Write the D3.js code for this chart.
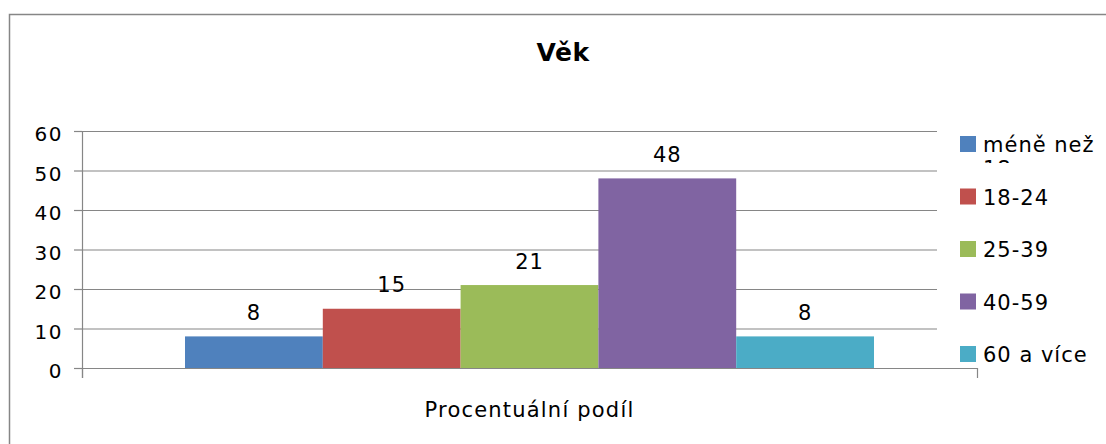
<!DOCTYPE html>
<html>
<head>
<meta charset="utf-8">
<script src="https://cdn.jsdelivr.net/npm/d3@7"></script>
<style>
  body { margin: 0; background: #fff; }
  text { font-family: "DejaVu Sans", sans-serif; fill: #000; }
</style>
</head>
<body>
<svg id="chart" width="1106" height="444"></svg>
<script>
// data
const categories = ["méně než 18", "18-24", "25-39", "40-59", "60 a více"];
const values = [8, 15, 21, 48, 8];
const colors = ["#4F81BD", "#C0504D", "#9BBB59", "#8064A2", "#4BACC6"];
const yTicks = [0, 10, 20, 30, 40, 50, 60];
const groupLabel = "Procentuální podíl";
const title = "Věk";

const svg = d3.select("#chart");
const grey = "#868686";

// outer frame (right and bottom run off the picture)
svg.append("rect")
  .attr("x", 9.5).attr("y", 14.5)
  .attr("width", 1120).attr("height", 460)
  .attr("fill", "none").attr("stroke", grey).attr("stroke-width", 1.5);

const plotLeft = 82, plotRight = 977, plotTop = 131, plotBottom = 368;

const y = d3.scaleLinear().domain([0, 60]).range([plotBottom, plotTop]);
const x = d3.scaleBand().domain(categories)
  .range([185, 874]).padding(0);

// gridlines
svg.append("g")
  .selectAll("line")
  .data(yTicks.filter(d => d > 0))
  .join("line")
  .attr("x1", plotLeft).attr("x2", 937)
  .attr("y1", d => y(d) + 0.5).attr("y2", d => y(d) + 0.5)
  .attr("stroke", grey).attr("stroke-width", 1.2);

// y axis
const yAxis = svg.append("g");
yAxis.append("line")
  .attr("x1", plotLeft + 0.5).attr("x2", plotLeft + 0.5)
  .attr("y1", plotTop).attr("y2", plotBottom + 10)
  .attr("stroke", grey).attr("stroke-width", 1.2);
yAxis.selectAll("line.tick")
  .data(yTicks)
  .join("line")
  .attr("class", "tick")
  .attr("x1", plotLeft - 8).attr("x2", plotLeft)
  .attr("y1", d => y(d) + 0.5).attr("y2", d => y(d) + 0.5)
  .attr("stroke", grey).attr("stroke-width", 1.2);
yAxis.selectAll("text")
  .data(yTicks)
  .join("text")
  .attr("x", 63).attr("y", d => y(d) + 3)
  .attr("dy", "0.35em")
  .attr("text-anchor", "end")
  .style("font-size", "20px")
  .style("letter-spacing", "1.5px")
  .text(d => d);

// bars
svg.append("g")
  .selectAll("rect")
  .data(values)
  .join("rect")
  .attr("x", (d, i) => x(categories[i]))
  .attr("y", d => y(d))
  .attr("width", x.bandwidth())
  .attr("height", d => plotBottom - y(d))
  .attr("fill", (d, i) => colors[i]);

// value labels
svg.append("g")
  .selectAll("text")
  .data(values)
  .join("text")
  .attr("x", (d, i) => x(categories[i]) + x.bandwidth() / 2)
  .attr("y", d => y(d) - 16.5)
  .attr("text-anchor", "middle")
  .style("font-size", "21px")
  .style("letter-spacing", "1px")
  .text(d => d);

// x axis
const xAxis = svg.append("g");
xAxis.append("line")
  .attr("x1", plotLeft).attr("x2", plotRight)
  .attr("y1", plotBottom + 0.5).attr("y2", plotBottom + 0.5)
  .attr("stroke", grey).attr("stroke-width", 1.2);
xAxis.selectAll("line.tick")
  .data([plotLeft, plotRight])
  .join("line")
  .attr("class", "tick")
  .attr("x1", d => d + 0.5).attr("x2", d => d + 0.5)
  .attr("y1", plotBottom).attr("y2", plotBottom + 10)
  .attr("stroke", grey).attr("stroke-width", 1.2);
xAxis.append("text")
  .attr("x", (plotLeft + plotRight) / 2).attr("y", 417)
  .attr("text-anchor", "middle")
  .style("font-size", "21px")
  .style("letter-spacing", "1.2px")
  .text(groupLabel);

// title
svg.append("text")
  .attr("x", 563).attr("y", 61)
  .attr("text-anchor", "middle")
  .style("font-size", "25px")
  .style("font-weight", "bold")
  .style("letter-spacing", "0.5px")
  .text(title);

// legend
svg.append("clipPath").attr("id", "legclip")
  .append("rect").attr("x", -10).attr("y", -30).attr("width", 160).attr("height", 49);

const items = svg.append("g")
  .selectAll("g")
  .data(categories)
  .join("g")
  .attr("transform", (d, i) => `translate(960, ${144 + i * 52.5})`)
  .attr("clip-path", (d, i) => i === 0 ? "url(#legclip)" : null);
items.append("rect")
  .attr("x", 0).attr("y", -8)
  .attr("width", 16).attr("height", 16)
  .attr("fill", (d, i) => colors[i]);
items.append("text")
  .attr("x", 23)
  .attr("y", 8)
  .style("font-size", "21px")
  .style("letter-spacing", "1px")
  .each(function (d, i) {
    const t = d3.select(this);
    if (i === 0) {
      // first label wraps and its second line is cut off
      t.append("tspan").attr("x", 23).text("méně než");
      t.append("tspan").attr("x", 23).attr("dy", "1.15em").text("18");
    } else {
      t.text(d);
    }
  });
</script>
</body>
</html>
